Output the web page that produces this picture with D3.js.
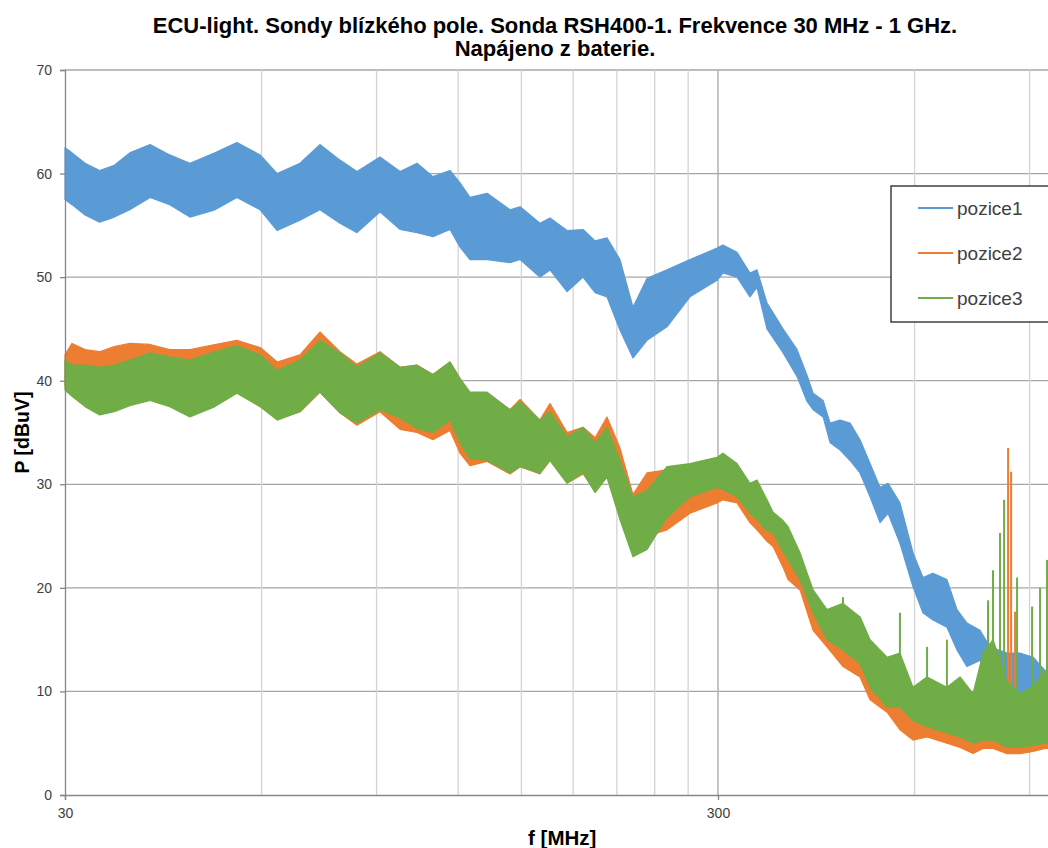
<!DOCTYPE html>
<html><head><meta charset="utf-8">
<script src="https://cdn.jsdelivr.net/npm/d3@7"></script>
<style>body{margin:0;background:#fff}svg{display:block}</style>
</head><body>
<script>
// ---- data ----
const titleLines = ["ECU-light. Sondy blízkého pole. Sonda RSH400-1. Frekvence 30 MHz - 1 GHz.", "Napájeno z baterie."];
const seriesNames = ["pozice1", "pozice2", "pozice3"];
const xTickValues = [30, 300];
const xMinorGrid = [60, 90, 120, 150, 180, 210, 240, 270, 600, 900];
const yTickValues = [0, 10, 20, 30, 40, 50, 60, 70];

// pozice1: frequency (MHz), upper and lower envelope (dBuV)
const p1Freq = [30, 30.75, 32.2, 33.9, 35.7, 37.7, 40.5, 43.4, 46.6, 50.9, 55.0, 59.7, 63.4, 68.7, 73.7, 79.1, 84.0, 91.1, 97.8, 103.8, 109.8, 116.6, 120.8, 125.1, 132.9, 144.1, 149.3, 160.1, 165.9, 176.2, 186.4, 194.5, 202.8, 212.3, 222.3, 233.6, 250.6, 271.8, 299.0, 305.3, 320.8, 335.8, 344.2, 356.6, 377.3, 396.5, 410.7, 419.5, 434.6, 445.5, 461.4, 477.9, 495.0, 512.8, 531.2, 546.4, 569.8, 596.7, 617.9, 640.1, 672.5, 696.8, 721.8, 755.6, 782.7, 831.2, 870.1, 911.3, 950.5, 1000];
const p1Hi = [62.5, 62.0, 61.0, 60.3, 60.8, 62.0, 62.8, 61.8, 61.0, 62.0, 63.0, 61.8, 60.0, 61.0, 62.8, 61.3, 60.2, 61.6, 60.2, 61.0, 59.7, 60.3, 59.1, 57.7, 58.1, 56.5, 56.8, 55.2, 55.7, 54.5, 54.6, 53.5, 53.8, 51.7, 47.1, 49.9, 50.7, 51.7, 52.8, 53.1, 52.4, 50.4, 50.7, 47.5, 45.0, 43.0, 40.5, 38.8, 38.1, 35.9, 36.2, 35.9, 34.3, 32.0, 29.7, 30.1, 28.2, 23.4, 21.0, 21.4, 20.8, 17.9, 16.6, 15.9, 14.3, 13.7, 13.7, 13.3, 12.0, 10.5];
const p1Lo = [57.5, 57.0, 56.0, 55.3, 55.8, 56.5, 57.7, 57.0, 55.8, 56.5, 57.7, 56.5, 54.5, 55.5, 56.5, 55.2, 54.3, 56.3, 54.6, 54.3, 53.9, 54.6, 52.9, 51.7, 51.7, 51.4, 51.7, 50.0, 50.7, 48.6, 50.0, 48.5, 48.1, 44.9, 42.2, 43.9, 45.2, 48.1, 49.7, 50.4, 50.0, 48.1, 49.0, 45.0, 42.7, 40.4, 38.0, 37.2, 36.5, 34.0, 33.3, 32.3, 31.1, 28.8, 26.3, 27.2, 24.3, 20.1, 17.6, 16.9, 16.2, 14.0, 12.4, 13.0, 11.8, 10.4, 9.2, 7.5, 8.5, 8.0];

// pozice2 / pozice3 share a frequency grid
const p23Freq = [30, 30.75, 32.2, 33.9, 35.7, 37.7, 40.5, 43.4, 46.6, 50.9, 55.0, 59.7, 63.4, 68.7, 73.7, 79.1, 84.0, 91.1, 97.8, 103.8, 109.8, 116.6, 120.8, 125.1, 132.9, 144.1, 149.3, 160.1, 165.9, 176.2, 186.4, 194.5, 202.8, 212.3, 222.3, 233.6, 250.6, 271.8, 299.0, 305.3, 320.8, 335.8, 344.2, 356.6, 364.3, 377.3, 384.1, 400.6, 419.5, 440.6, 466.2, 495.0, 512.8, 544.5, 569.8, 596.7, 627.0, 672.5, 704.3, 737.5, 763.9, 791.2, 831.2, 870.1, 911.3, 950.5, 1000];
const p2Hi = [42.5, 43.6, 43.0, 42.8, 43.3, 43.6, 43.5, 43.0, 43.0, 43.5, 43.9, 43.2, 41.8, 42.5, 44.7, 42.8, 41.6, 42.8, 41.3, 41.5, 40.6, 41.8, 40.2, 38.8, 38.8, 37.2, 38.2, 36.2, 37.8, 35.0, 35.5, 34.5, 36.5, 33.5, 29.0, 31.1, 31.4, 30.5, 31.5, 31.5, 30.5, 29.5, 29.6, 27.5, 26.5, 25.5, 24.5, 21.5, 18.5, 17.0, 16.5, 15.5, 13.5, 12.0, 12.0, 9.5, 10.0, 9.5, 10.0, 9.0, 12.0, 12.0, 10.0, 9.0, 9.5, 10.0, 10.0];
const p2Lo = [39.5, 39.0, 38.0, 37.0, 37.2, 37.8, 38.3, 37.6, 36.8, 37.6, 38.9, 37.5, 36.3, 37.0, 38.9, 36.9, 35.7, 37.0, 35.3, 35.0, 34.3, 35.2, 33.0, 31.8, 32.2, 31.0, 31.7, 31.0, 32.3, 30.1, 31.0, 29.5, 30.7, 27.0, 24.0, 25.0, 25.6, 27.2, 28.2, 28.5, 28.2, 26.3, 25.6, 24.5, 24.0, 22.0, 20.8, 19.8, 15.9, 14.3, 12.4, 11.4, 9.2, 8.0, 6.3, 5.3, 5.6, 5.0, 4.6, 4.0, 4.5, 4.5, 4.0, 4.0, 4.2, 4.5, 4.5];
const p3Hi = [42.0, 41.5, 41.5, 41.3, 41.5, 42.0, 42.7, 42.3, 42.0, 42.8, 43.4, 42.5, 41.0, 42.0, 43.9, 42.7, 41.3, 42.7, 41.3, 41.5, 40.6, 41.8, 40.2, 38.9, 38.9, 37.2, 38.0, 36.2, 37.0, 34.6, 35.5, 34.0, 35.5, 32.3, 28.8, 29.4, 31.7, 32.0, 32.6, 33.0, 32.0, 30.1, 30.4, 28.5, 27.3, 26.5, 25.9, 23.4, 19.8, 17.9, 18.5, 17.2, 15.0, 13.3, 13.7, 10.4, 11.4, 10.4, 11.4, 9.8, 13.7, 15.0, 11.0, 9.8, 10.5, 12.0, 12.0];
const p3Lo = [39.1, 38.5, 37.5, 36.7, 37.0, 37.6, 38.1, 37.5, 36.5, 37.5, 38.8, 37.5, 36.2, 37.0, 38.9, 36.9, 35.9, 37.2, 36.4, 35.4, 35.0, 36.2, 34.0, 32.5, 32.3, 31.1, 31.7, 31.1, 32.3, 30.1, 31.1, 29.2, 30.7, 26.6, 23.0, 23.7, 26.8, 28.8, 29.7, 29.5, 28.8, 27.2, 26.6, 25.5, 25.3, 23.5, 22.7, 20.8, 17.6, 15.0, 14.0, 12.7, 10.4, 8.5, 8.5, 7.2, 6.6, 6.0, 5.6, 5.0, 5.3, 5.3, 4.6, 4.6, 4.8, 5.0, 5.0];

// narrow spikes rising out of the band (frequency, bottom, top)
const p2SpikeFreq = [777.6, 834.4, 843.3, 855.3];
const p2SpikeLo = [5.0, 5.0, 5.0, 5.0];
const p2SpikeHi = [18.6, 33.5, 31.2, 17.7];
const p3SpikeFreq = [466.2, 569.8, 627.0, 672.5, 777.6, 791.2, 811.0, 822.7, 861.2, 908.0, 933.9, 957.0];
const p3SpikeLo = [14.0, 10.0, 8.0, 8.0, 6.0, 6.0, 6.0, 6.0, 6.0, 6.0, 6.0, 6.0];
const p3SpikeHi = [19.1, 17.6, 14.3, 15.0, 18.8, 21.7, 25.3, 28.5, 21.0, 18.2, 20.0, 22.7];

const colors = ["#5B9BD5", "#ED7D31", "#70AD47"];

// ---- drawing ----
const W = 1048, H = 848;
const svg = d3.select("body").append("svg").attr("width", W).attr("height", H)
  .style("font-family", "'Liberation Sans', Arial, sans-serif");

const x = d3.scaleLog().domain([30, 1000]).range([65, 65 + 653 * Math.log10(1000 / 30)]);
const y = d3.scaleLinear().domain([0, 70]).range([795, 70]);

// gridlines
svg.append("g").selectAll("line").data(yTickValues.slice(1)).join("line")
  .attr("x1", 65).attr("x2", x(1000)).attr("y1", d => y(d)).attr("y2", d => y(d))
  .attr("stroke", "#a6a6a6").attr("stroke-width", 1.3);
svg.append("g").selectAll("line").data(xMinorGrid).join("line")
  .attr("x1", d => x(d)).attr("x2", d => x(d)).attr("y1", y(0)).attr("y2", y(70))
  .attr("stroke", "#d3d3d3").attr("stroke-width", 1.3);
svg.append("g").selectAll("line").data(xTickValues.slice(1)).join("line")
  .attr("x1", d => x(d)).attr("x2", d => x(d)).attr("y1", y(0)).attr("y2", y(70))
  .attr("stroke", "#b0b0b0").attr("stroke-width", 1.5);

// series
function drawSeries(freq, hi, lo, color) {
  const pts = freq.map((f, i) => ({ f, hi: hi[i], lo: lo[i] }));
  const area = d3.area().x(d => x(d.f)).y0(d => y(d.lo)).y1(d => y(d.hi)).curve(d3.curveLinear);
  svg.append("path").datum(pts).attr("d", area).attr("fill", color)
    .attr("stroke", color).attr("stroke-width", 1.2).attr("stroke-linejoin", "round");
}
function drawSpikes(freq, lo, hi, color) {
  svg.append("g").selectAll("line").data(freq.map((f, i) => ({ f, lo: lo[i], hi: hi[i] }))).join("line")
    .attr("x1", d => x(d.f)).attr("x2", d => x(d.f)).attr("y1", d => y(d.lo)).attr("y2", d => y(d.hi))
    .attr("stroke", color).attr("stroke-width", 2);
}

drawSeries(p1Freq, p1Hi, p1Lo, colors[0]);
drawSeries(p23Freq, p2Hi, p2Lo, colors[1]);
drawSpikes(p2SpikeFreq, p2SpikeLo, p2SpikeHi, colors[1]);
drawSeries(p23Freq, p3Hi, p3Lo, colors[2]);
drawSpikes(p3SpikeFreq, p3SpikeLo, p3SpikeHi, colors[2]);

// axes
const axisColor = "#868686";
const xAxis = svg.append("g").attr("transform", `translate(0,${y(0)})`)
  .call(d3.axisBottom(x).tickValues(xTickValues).tickFormat(d3.format("d")).tickSize(5).tickPadding(8));
const yAxis = svg.append("g").attr("transform", `translate(65,0)`)
  .call(d3.axisLeft(y).tickValues(yTickValues).tickSize(5).tickPadding(8));
[xAxis, yAxis].forEach(a => {
  a.select(".domain").attr("stroke", axisColor).attr("stroke-width", 1.3);
  a.selectAll(".tick line").attr("stroke", axisColor).attr("stroke-width", 1.3);
  a.selectAll("text").attr("fill", "#404040").style("font-size", "14px")
    .style("font-family", "'Liberation Sans', Arial, sans-serif");
});

// titles
const title = svg.append("text").attr("text-anchor", "middle").attr("font-weight", "bold")
  .attr("font-size", 22).attr("fill", "#000");
titleLines.forEach((t, i) => title.append("tspan").attr("x", 555).attr("y", 33 + i * 23).text(t));

svg.append("text").attr("x", x(Math.sqrt(30 * 1000))).attr("y", 845).attr("text-anchor", "middle")
  .attr("font-weight", "bold").attr("font-size", 20.5).text("f [MHz]");
svg.append("text").attr("transform", `translate(29,${(y(0) + y(70)) / 2}) rotate(-90)`)
  .attr("text-anchor", "middle").attr("font-weight", "bold").attr("font-size", 19.5).text("P [dBuV]");

// legend
const lg = svg.append("g").attr("transform", "translate(891,186)");
lg.append("rect").attr("x", 0).attr("y", 0).attr("width", 200).attr("height", 136)
  .attr("fill", "#fff").attr("stroke", "#404040").attr("stroke-width", 1.5);
seriesNames.forEach((n, i) => {
  const yy = 22 + i * 45;
  lg.append("line").attr("x1", 27).attr("x2", 62).attr("y1", yy).attr("y2", yy)
    .attr("stroke", colors[i]).attr("stroke-width", 1.8);
  lg.append("text").attr("x", 66).attr("y", yy + 7).attr("font-size", 19).attr("fill", "#404040").text(n);
});
</script>
</body></html>
